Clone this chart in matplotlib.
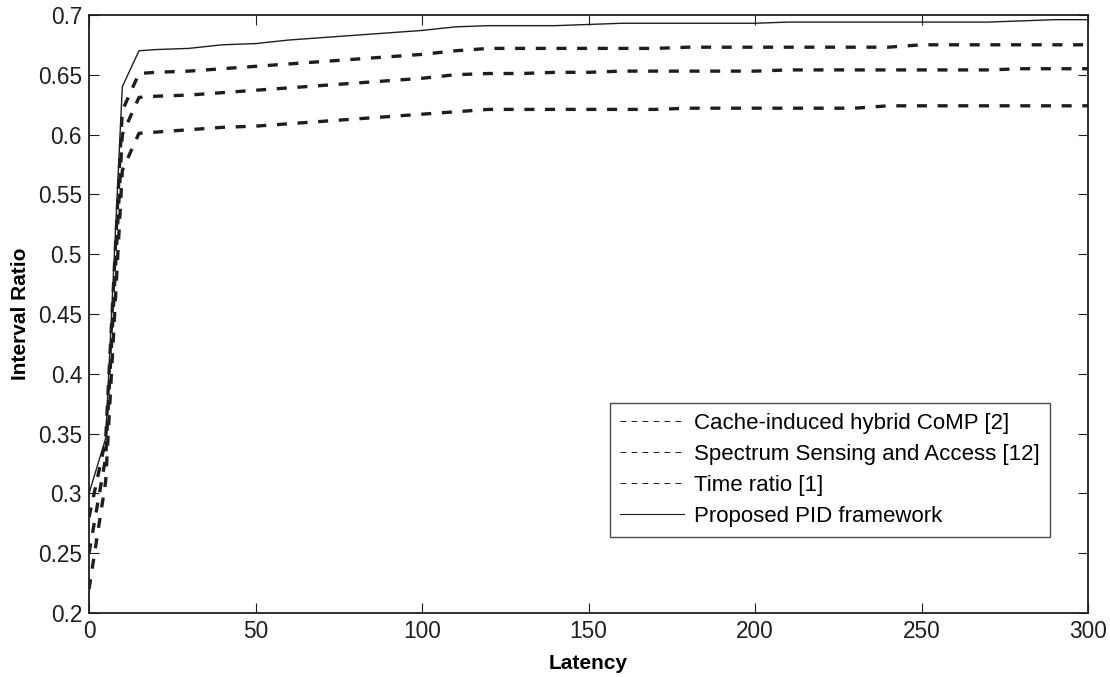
import matplotlib
matplotlib.use("Agg")
import matplotlib.pyplot as plt
from matplotlib.lines import Line2D
from matplotlib.ticker import FuncFormatter

plt.rcParams["font.family"] = ["Liberation Sans", "DejaVu Sans"]

# latency grid shared by all four curves
latency = [0, 5, 10, 15, 20, 30, 40, 50, 60, 70, 80, 90, 100, 110, 120, 130,
           140, 150, 160, 170, 180, 190, 200, 210, 220, 230, 240, 250, 260,
           270, 280, 290, 300]

cache_comp = [0.280, 0.345, 0.620, 0.651, 0.652, 0.653, 0.655, 0.657, 0.659,
              0.661, 0.663, 0.665, 0.667, 0.670, 0.672, 0.672, 0.672, 0.672,
              0.672, 0.672, 0.673, 0.673, 0.673, 0.673, 0.673, 0.673, 0.673,
              0.675, 0.675, 0.675, 0.675, 0.675, 0.675]
spectrum = [0.250, 0.330, 0.600, 0.631, 0.632, 0.633, 0.635, 0.637, 0.639,
            0.641, 0.643, 0.645, 0.647, 0.650, 0.651, 0.651, 0.652, 0.652,
            0.653, 0.653, 0.653, 0.653, 0.653, 0.654, 0.654, 0.654, 0.654,
            0.654, 0.654, 0.654, 0.655, 0.655, 0.655]
time_ratio = [0.220, 0.310, 0.570, 0.601, 0.602, 0.604, 0.606, 0.607, 0.609,
              0.611, 0.613, 0.615, 0.617, 0.619, 0.621, 0.621, 0.621, 0.621,
              0.621, 0.621, 0.622, 0.622, 0.622, 0.622, 0.622, 0.622, 0.624,
              0.624, 0.624, 0.624, 0.624, 0.624, 0.624]
proposed = [0.300, 0.346, 0.640, 0.670, 0.671, 0.672, 0.675, 0.676, 0.679,
            0.681, 0.683, 0.685, 0.687, 0.690, 0.691, 0.691, 0.691, 0.692,
            0.693, 0.693, 0.693, 0.693, 0.693, 0.694, 0.694, 0.694, 0.694,
            0.694, 0.694, 0.694, 0.695, 0.696, 0.696]

labels = ["Cache-induced hybrid CoMP [2]", "Spectrum Sensing and Access [12]",
          "Time ratio [1]", "Proposed PID framework"]
INK = "#1e1e1e"

fig = plt.figure(figsize=(11.1, 6.77), dpi=100)
ax = fig.add_axes([0.0802, 0.0945, 0.9, 0.8835])

for ys in (cache_comp, spectrum, time_ratio):
    ax.plot(latency, ys, color=INK, lw=2.4, dashes=(3.0, 3.2))
ax.plot(latency, proposed, color=INK, lw=1.0)

ax.set_xlim(0, 300)
ax.set_ylim(0.2, 0.7)
ax.set_xticks(range(0, 301, 50))
ax.set_yticks([0.2 + 0.05 * i for i in range(11)])
ax.yaxis.set_major_formatter(FuncFormatter(lambda v, _: f"{v:g}"))
ax.tick_params(direction="in", length=7, width=0.8, top=True, right=True,
               labelsize=16.3, colors=INK, pad=5)
for s in ax.spines.values():
    s.set_linewidth(1.3)
    s.set_color(INK)

ax.set_xlabel("Latency", fontsize=15, fontweight="bold", labelpad=8)
ax.set_ylabel("Interval Ratio", fontsize=15, fontweight="bold", labelpad=6)

# legend keys are drawn thin, like the original export
handles = [Line2D([], [], color=INK, lw=0.7, dashes=(6, 5.3)) for _ in range(3)]
handles.append(Line2D([], [], color=INK, lw=0.8))
leg = ax.legend(handles, labels, loc="upper left", bbox_to_anchor=(0.5215, 0.351),
                fontsize=16, frameon=True, fancybox=False, handlelength=2.9,
                handletextpad=0.45, labelspacing=0.45, borderpad=0.45,
                borderaxespad=0)
leg.get_frame().set_edgecolor(INK)
leg.get_frame().set_linewidth(1.0)

fig.savefig("out.png", dpi=100, facecolor="white")
